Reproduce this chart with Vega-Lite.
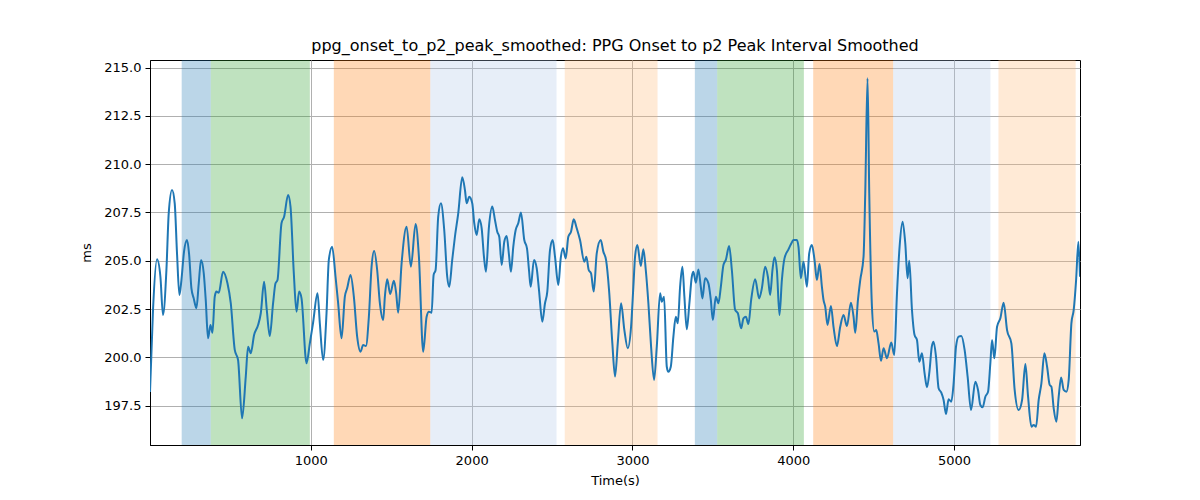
{
  "$schema": "https://vega.github.io/schema/vega-lite/v6.json",
  "width": 930,
  "height": 385,
  "autosize": {"type": "none"},
  "padding": {"left": 150, "top": 60, "right": 120, "bottom": 55},
  "background": "white",
  "title": {"text": "ppg_onset_to_p2_peak_smoothed: PPG Onset to p2 Peak Interval Smoothed", "fontSize": 16, "fontWeight": "normal", "font": "DejaVu Sans", "color": "black", "offset": 6, "anchor": "middle"},
  "datasets": {
    "bands": [
      {"start": 197, "end": 378, "band": "b1"},
      {"start": 378, "end": 994, "band": "b2"},
      {"start": 1143, "end": 1743, "band": "b3"},
      {"start": 1743, "end": 2528, "band": "b4"},
      {"start": 2579, "end": 3156, "band": "b5"},
      {"start": 3388, "end": 3527, "band": "b1"},
      {"start": 3527, "end": 4066, "band": "b2"},
      {"start": 4124, "end": 4621, "band": "b3"},
      {"start": 4621, "end": 5226, "band": "b4"},
      {"start": 5276, "end": 5756, "band": "b5"}
    ],
    "series": [
      {"t": 0, "v": 198.2}, {"t": 18.7, "v": 202.45}, {"t": 43.6, "v": 205.07}, {"t": 64.7, "v": 204.17}, {"t": 80.9, "v": 202.19},
      {"t": 102.1, "v": 204.52}, {"t": 116.4, "v": 207.45}, {"t": 136.9, "v": 208.66}, {"t": 153.7, "v": 207.97}, {"t": 168.0, "v": 205.38},
      {"t": 183.0, "v": 203.22}, {"t": 195.4, "v": 204.0}, {"t": 211.6, "v": 205.47}, {"t": 230.3, "v": 206.07}, {"t": 242.7, "v": 205.38},
      {"t": 257.6, "v": 203.57}, {"t": 271.9, "v": 203.05}, {"t": 288.7, "v": 202.54}, {"t": 303.1, "v": 203.83}, {"t": 317.4, "v": 205.04},
      {"t": 334.2, "v": 204.35}, {"t": 346.6, "v": 202.97}, {"t": 360.9, "v": 200.98}, {"t": 375.9, "v": 201.67}, {"t": 388.3, "v": 201.27},
      {"t": 402.6, "v": 203.14}, {"t": 413.2, "v": 203.4}, {"t": 427.5, "v": 203.34}, {"t": 454.3, "v": 204.43}, {"t": 481.7, "v": 203.83},
      {"t": 502.2, "v": 202.8}, {"t": 527.1, "v": 200.38}, {"t": 547.6, "v": 199.86}, {"t": 572.5, "v": 196.84}, {"t": 595.5, "v": 199.0},
      {"t": 609.9, "v": 200.55}, {"t": 626.7, "v": 200.21}, {"t": 647.2, "v": 201.15}, {"t": 672.1, "v": 201.67}, {"t": 688.9, "v": 202.28},
      {"t": 709.4, "v": 203.91}, {"t": 726.2, "v": 202.45}, {"t": 744.9, "v": 201.1}, {"t": 765.4, "v": 202.8}, {"t": 780.4, "v": 203.83},
      {"t": 792.8, "v": 204.0}, {"t": 817.7, "v": 206.94}, {"t": 833.9, "v": 207.28}, {"t": 858.8, "v": 208.4}, {"t": 873.7, "v": 207.8},
      {"t": 894.3, "v": 204.35}, {"t": 911.0, "v": 202.36}, {"t": 927.2, "v": 203.4}, {"t": 942.2, "v": 203.05}, {"t": 973.3, "v": 199.69},
      {"t": 993.8, "v": 200.72}, {"t": 1014.3, "v": 201.8}, {"t": 1041.7, "v": 203.31}, {"t": 1056.1, "v": 201.76}, {"t": 1076.6, "v": 199.86},
      {"t": 1097.7, "v": 202.28}, {"t": 1112.0, "v": 205.04}, {"t": 1132.6, "v": 205.72}, {"t": 1153.7, "v": 204.17}, {"t": 1169.9, "v": 202.8},
      {"t": 1191.1, "v": 200.98}, {"t": 1211.6, "v": 203.14}, {"t": 1225.9, "v": 203.57}, {"t": 1247.1, "v": 204.26}, {"t": 1267.6, "v": 203.14},
      {"t": 1288.2, "v": 201.07}, {"t": 1309.3, "v": 200.29}, {"t": 1325.5, "v": 200.64}, {"t": 1342.3, "v": 200.58}, {"t": 1361.0, "v": 202.1},
      {"t": 1377.8, "v": 204.69}, {"t": 1393.9, "v": 205.5}, {"t": 1412.6, "v": 204.52}, {"t": 1429.4, "v": 202.8}, {"t": 1450.0, "v": 201.93},
      {"t": 1460.5, "v": 203.14}, {"t": 1474.9, "v": 204.04}, {"t": 1493.5, "v": 203.28}, {"t": 1516.6, "v": 203.96}, {"t": 1530.9, "v": 203.31},
      {"t": 1543.3, "v": 202.31}, {"t": 1564.5, "v": 204.86}, {"t": 1595.6, "v": 206.76}, {"t": 1622.3, "v": 204.69}, {"t": 1651.6, "v": 206.9},
      {"t": 1672.1, "v": 205.21}, {"t": 1698.9, "v": 200.29}, {"t": 1720.0, "v": 202.1}, {"t": 1734.4, "v": 202.36}, {"t": 1751.2, "v": 202.31},
      {"t": 1763.6, "v": 204.26}, {"t": 1776.0, "v": 204.52}, {"t": 1792.2, "v": 207.28}, {"t": 1809.0, "v": 207.97}, {"t": 1829.6, "v": 206.59},
      {"t": 1848.2, "v": 204.17}, {"t": 1860.7, "v": 203.65}, {"t": 1879.3, "v": 205.04}, {"t": 1896.1, "v": 206.24}, {"t": 1916.7, "v": 207.45},
      {"t": 1941.6, "v": 209.32}, {"t": 1958.4, "v": 208.66}, {"t": 1969.0, "v": 207.97}, {"t": 1985.2, "v": 208.31}, {"t": 2003.8, "v": 207.97},
      {"t": 2016.3, "v": 206.94}, {"t": 2031.2, "v": 206.33}, {"t": 2047.4, "v": 207.14}, {"t": 2062.3, "v": 206.68}, {"t": 2076.6, "v": 205.21},
      {"t": 2089.1, "v": 204.43}, {"t": 2107.8, "v": 206.76}, {"t": 2128.3, "v": 207.8}, {"t": 2145.1, "v": 207.11}, {"t": 2159.4, "v": 206.5},
      {"t": 2171.8, "v": 206.24}, {"t": 2186.8, "v": 204.78}, {"t": 2203.0, "v": 205.98}, {"t": 2217.9, "v": 206.28}, {"t": 2232.2, "v": 205.3},
      {"t": 2244.6, "v": 204.43}, {"t": 2258.9, "v": 205.72}, {"t": 2273.9, "v": 206.59}, {"t": 2290.0, "v": 206.94}, {"t": 2306.8, "v": 207.49},
      {"t": 2327.4, "v": 206.07}, {"t": 2344.2, "v": 205.64}, {"t": 2356.6, "v": 204.52}, {"t": 2367.2, "v": 203.65}, {"t": 2387.8, "v": 205.04},
      {"t": 2404.6, "v": 204.61}, {"t": 2418.9, "v": 203.48}, {"t": 2439.4, "v": 201.84}, {"t": 2456.2, "v": 202.8}, {"t": 2470.5, "v": 203.4},
      {"t": 2487.3, "v": 205.55}, {"t": 2504.1, "v": 206.07}, {"t": 2518.4, "v": 205.21}, {"t": 2539.0, "v": 203.74}, {"t": 2553.9, "v": 205.12},
      {"t": 2568.2, "v": 205.64}, {"t": 2585.0, "v": 205.12}, {"t": 2601.2, "v": 206.24}, {"t": 2618.0, "v": 206.5}, {"t": 2634.8, "v": 207.14},
      {"t": 2653.5, "v": 206.68}, {"t": 2674.0, "v": 206.07}, {"t": 2700.8, "v": 204.95}, {"t": 2713.2, "v": 205.21}, {"t": 2728.1, "v": 204.52},
      {"t": 2742.5, "v": 204.35}, {"t": 2759.3, "v": 203.4}, {"t": 2777.9, "v": 205.38}, {"t": 2802.8, "v": 206.07}, {"t": 2819.0, "v": 205.47},
      {"t": 2835.8, "v": 205.04}, {"t": 2854.5, "v": 203.48}, {"t": 2875.0, "v": 200.72}, {"t": 2891.8, "v": 199.0}, {"t": 2908.6, "v": 200.72},
      {"t": 2929.2, "v": 202.8}, {"t": 2949.7, "v": 201.41}, {"t": 2970.9, "v": 200.47}, {"t": 2991.4, "v": 201.58}, {"t": 3005.7, "v": 203.65},
      {"t": 3016.3, "v": 205.21}, {"t": 3030.6, "v": 205.81}, {"t": 3051.8, "v": 204.73}, {"t": 3067.9, "v": 205.59}, {"t": 3082.9, "v": 204.52},
      {"t": 3099.1, "v": 202.8}, {"t": 3115.9, "v": 200.55}, {"t": 3134.5, "v": 198.83}, {"t": 3151.3, "v": 200.55}, {"t": 3171.9, "v": 203.31},
      {"t": 3182.4, "v": 202.88}, {"t": 3196.7, "v": 203.14}, {"t": 3213.5, "v": 199.51}, {"t": 3223.5, "v": 199.25}, {"t": 3238.4, "v": 199.51},
      {"t": 3254.6, "v": 201.07}, {"t": 3269.5, "v": 202.1}, {"t": 3282.0, "v": 201.76}, {"t": 3296.3, "v": 203.65}, {"t": 3310.6, "v": 204.69},
      {"t": 3323.0, "v": 203.14}, {"t": 3337.9, "v": 201.45}, {"t": 3354.1, "v": 202.8}, {"t": 3369.1, "v": 204.17}, {"t": 3379.0, "v": 204.43},
      {"t": 3393.9, "v": 203.86}, {"t": 3410.1, "v": 204.55}, {"t": 3425.1, "v": 203.65}, {"t": 3435.0, "v": 203.05}, {"t": 3451.8, "v": 204.09},
      {"t": 3472.4, "v": 203.83}, {"t": 3487.3, "v": 202.97}, {"t": 3499.8, "v": 201.93}, {"t": 3518.5, "v": 203.14}, {"t": 3534.6, "v": 202.8},
      {"t": 3549.6, "v": 203.65}, {"t": 3565.8, "v": 204.78}, {"t": 3580.7, "v": 205.04}, {"t": 3601.3, "v": 205.76}, {"t": 3618.1, "v": 204.52},
      {"t": 3638.6, "v": 202.45}, {"t": 3655.4, "v": 202.28}, {"t": 3675.9, "v": 201.5}, {"t": 3690.3, "v": 202.02}, {"t": 3705.2, "v": 202.1},
      {"t": 3721.4, "v": 201.72}, {"t": 3738.2, "v": 202.97}, {"t": 3763.1, "v": 204.04}, {"t": 3788.0, "v": 203.05}, {"t": 3804.7, "v": 203.57},
      {"t": 3825.3, "v": 204.69}, {"t": 3842.1, "v": 204.17}, {"t": 3856.4, "v": 203.22}, {"t": 3870.7, "v": 204.52}, {"t": 3883.2, "v": 205.18},
      {"t": 3898.1, "v": 204.52}, {"t": 3914.3, "v": 202.19}, {"t": 3929.2, "v": 204.0}, {"t": 3945.4, "v": 205.12}, {"t": 3970.3, "v": 205.59},
      {"t": 3985.2, "v": 205.85}, {"t": 4001.4, "v": 206.07}, {"t": 4022.6, "v": 206.07}, {"t": 4032.5, "v": 205.72}, {"t": 4047.4, "v": 204.09},
      {"t": 4063.6, "v": 204.95}, {"t": 4084.8, "v": 203.65}, {"t": 4099.1, "v": 205.38}, {"t": 4115.9, "v": 205.81}, {"t": 4132.1, "v": 205.04},
      {"t": 4147.0, "v": 204.0}, {"t": 4163.2, "v": 204.83}, {"t": 4178.1, "v": 203.65}, {"t": 4188.1, "v": 202.97}, {"t": 4198.7, "v": 202.62},
      {"t": 4213.0, "v": 201.67}, {"t": 4234.1, "v": 202.66}, {"t": 4250.3, "v": 201.58}, {"t": 4271.5, "v": 200.58}, {"t": 4292.0, "v": 201.58},
      {"t": 4312.6, "v": 202.19}, {"t": 4333.7, "v": 201.62}, {"t": 4358.6, "v": 202.83}, {"t": 4374.8, "v": 202.1}, {"t": 4385.4, "v": 201.27},
      {"t": 4402.2, "v": 202.97}, {"t": 4416.5, "v": 204.0}, {"t": 4437.0, "v": 205.21}, {"t": 4447.6, "v": 208.49}, {"t": 4461.9, "v": 214.44},
      {"t": 4472.5, "v": 208.49}, {"t": 4489.3, "v": 202.62}, {"t": 4503.6, "v": 201.33}, {"t": 4516.0, "v": 201.41}, {"t": 4530.4, "v": 200.72},
      {"t": 4545.3, "v": 199.82}, {"t": 4561.5, "v": 200.47}, {"t": 4582.6, "v": 199.95}, {"t": 4609.4, "v": 200.76}, {"t": 4628.1, "v": 200.12},
      {"t": 4644.9, "v": 203.31}, {"t": 4661.1, "v": 205.72}, {"t": 4679.7, "v": 207.02}, {"t": 4696.5, "v": 205.9}, {"t": 4710.8, "v": 204.09},
      {"t": 4721.4, "v": 205.0}, {"t": 4738.2, "v": 202.45}, {"t": 4754.4, "v": 201.15}, {"t": 4769.3, "v": 200.9}, {"t": 4783.6, "v": 199.77},
      {"t": 4800.4, "v": 200.21}, {"t": 4816.6, "v": 199.17}, {"t": 4831.5, "v": 198.45}, {"t": 4847.7, "v": 199.34}, {"t": 4861.4, "v": 200.55},
      {"t": 4872.6, "v": 200.81}, {"t": 4887.5, "v": 200.03}, {"t": 4903.7, "v": 198.4}, {"t": 4920.5, "v": 198.17}, {"t": 4934.8, "v": 197.79},
      {"t": 4949.8, "v": 197.07}, {"t": 4965.9, "v": 197.83}, {"t": 4982.7, "v": 197.7}, {"t": 4997.1, "v": 198.65}, {"t": 5012.0, "v": 200.55},
      {"t": 5028.2, "v": 201.07}, {"t": 5045.0, "v": 201.1}, {"t": 5065.5, "v": 200.38}, {"t": 5084.2, "v": 199.0}, {"t": 5105.3, "v": 197.27},
      {"t": 5132.1, "v": 198.74}, {"t": 5148.9, "v": 198.31}, {"t": 5163.2, "v": 197.53}, {"t": 5177.6, "v": 197.41}, {"t": 5194.4, "v": 197.96},
      {"t": 5211.2, "v": 198.22}, {"t": 5225.5, "v": 199.69}, {"t": 5236.1, "v": 200.9}, {"t": 5250.4, "v": 199.95}, {"t": 5267.2, "v": 201.58},
      {"t": 5287.7, "v": 202.02}, {"t": 5308.3, "v": 202.83}, {"t": 5329.4, "v": 201.41}, {"t": 5356.2, "v": 200.72}, {"t": 5376.7, "v": 198.31},
      {"t": 5401.6, "v": 197.27}, {"t": 5422.8, "v": 197.79}, {"t": 5443.3, "v": 199.65}, {"t": 5460.1, "v": 197.96}, {"t": 5480.7, "v": 196.41},
      {"t": 5495.0, "v": 196.5}, {"t": 5509.9, "v": 196.41}, {"t": 5526.1, "v": 197.79}, {"t": 5542.9, "v": 198.65}, {"t": 5561.6, "v": 200.21},
      {"t": 5578.4, "v": 199.51}, {"t": 5594.5, "v": 198.57}, {"t": 5605.1, "v": 198.48}, {"t": 5619.4, "v": 197.36}, {"t": 5636.2, "v": 196.67},
      {"t": 5650.5, "v": 197.96}, {"t": 5665.5, "v": 198.96}, {"t": 5681.6, "v": 198.31}, {"t": 5698.4, "v": 198.22}, {"t": 5712.7, "v": 198.83},
      {"t": 5729.5, "v": 201.76}, {"t": 5743.9, "v": 202.45}, {"t": 5758.8, "v": 204.0}, {"t": 5773.0, "v": 205.98}, {"t": 5783.0, "v": 204.17}
    ]
  },
  "config": {
    "font": "DejaVu Sans",
    "view": {"stroke": "black", "strokeWidth": 1},
    "axis": {
      "gridColor": "#b0b0b0", "gridWidth": 1, "gridOpacity": 1,
      "domainColor": "black", "domainWidth": 1,
      "tickColor": "black", "tickSize": 5, "tickWidth": 1,
      "labelColor": "black", "labelFontSize": 13, "labelPadding": 4,
      "titleColor": "black", "titleFontSize": 13, "titleFontWeight": "normal"
    }
  },
  "layer": [
    {
      "data": {"name": "bands"},
      "mark": {"type": "rect", "opacity": 0.3},
      "encoding": {
        "x": {"field": "start", "type": "quantitative", "scale": {"domain": [0, 5783], "nice": false, "zero": false}},
        "x2": {"field": "end"},
        "color": {"field": "band", "type": "nominal", "legend": null,
          "scale": {"domain": ["b1", "b2", "b3", "b4", "b5"], "range": ["#1f77b4", "#2ca02c", "#ff7f0e", "#aec7e8", "#ffbb78"]}}
      }
    },
    {
      "data": {"name": "series"},
      "mark": {"type": "line", "color": "#1f77b4", "strokeWidth": 2, "clip": true, "interpolate": "monotone"},
      "encoding": {
        "x": {"field": "t", "type": "quantitative", "title": "Time(s)",
          "scale": {"domain": [0, 5783], "nice": false, "zero": false},
          "axis": {"values": [1000, 2000, 3000, 4000, 5000], "format": "d", "titlePadding": 7}},
        "y": {"field": "v", "type": "quantitative", "title": "ms",
          "scale": {"domain": [195.46, 215.39], "nice": false, "zero": false},
          "axis": {"values": [197.5, 200, 202.5, 205, 207.5, 210, 212.5, 215], "format": ".1f", "titlePadding": 10}}
      }
    }
  ]
}
